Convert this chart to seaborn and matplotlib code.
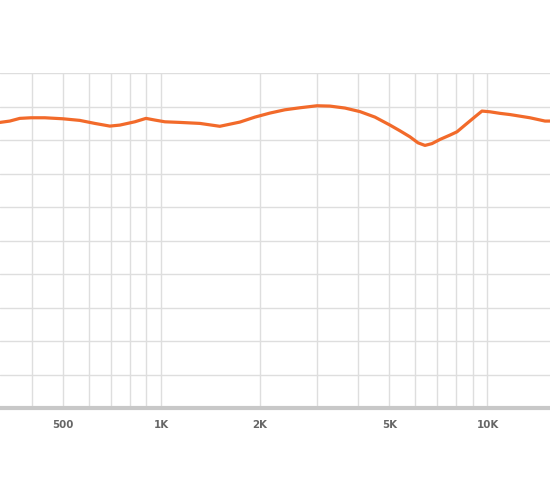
"""
Frequency response curve (log frequency axis)
"""
import matplotlib
matplotlib.use("Agg")
import matplotlib.pyplot as plt
import matplotlib.ticker as mticker
import seaborn as sns
import pandas as pd

# frequency (Hz) and level (dB)
freq_hz = [320, 343, 368, 398, 439, 499, 562, 625, 695, 746, 829, 897, 955,
           1025, 1139, 1313, 1511, 1741, 1936, 2152, 2392, 2659, 2999, 3288,
           3656, 4064, 4518, 5023, 5390, 5785, 6121, 6432, 6758, 7151, 7674,
           8064, 8531, 9156, 9619, 10180, 10920, 11720, 13500, 15010, 15550]
level_db = [82.64, 82.84, 83.24, 83.33, 83.33, 83.18, 82.94, 82.49, 82.09,
            82.24, 82.73, 83.24, 82.99, 82.73, 82.64, 82.49, 82.06, 82.69,
            83.43, 84.03, 84.52, 84.82, 85.12, 85.07, 84.78, 84.25, 83.43,
            82.24, 81.39, 80.49, 79.60, 79.21, 79.48, 80.10, 80.75, 81.24,
            82.24, 83.48, 84.33, 84.22, 83.99, 83.81, 83.33, 82.84, 82.84]

tick_pos = [500, 1000, 2000, 5000, 10000]
tick_lab = ["500", "1K", "2K", "5K", "10K"]
minor_pos = [400, 600, 700, 800, 900, 3000, 4000, 6000, 7000, 8000, 9000]

df = pd.DataFrame({"freq": freq_hz, "db": level_db})

sns.set_style("white")
fig = plt.figure(figsize=(5.5, 4.82), dpi=100)
ax = fig.add_axes([0, 0.1525, 1, 0.696])

sns.lineplot(data=df, x="freq", y="db", ax=ax, color="#f26a2a", lw=2.3)

ax.set_xscale("log")
ax.set_xlim(320, 15550)
ax.set_ylim(40, 90)

ax.xaxis.set_major_locator(mticker.FixedLocator(tick_pos))
ax.xaxis.set_major_formatter(mticker.FixedFormatter(tick_lab))
ax.xaxis.set_minor_locator(mticker.FixedLocator(minor_pos))
ax.xaxis.set_minor_formatter(mticker.NullFormatter())
ax.yaxis.set_major_locator(mticker.MultipleLocator(5))
ax.set_yticklabels([])

ax.grid(True, which="both", axis="x", color="#dedede", lw=1.0)
ax.grid(True, which="major", axis="y", color="#dedede", lw=1.0)
ax.set_axisbelow(True)

for s in ["top", "left", "right"]:
    ax.spines[s].set_visible(False)
ax.spines["bottom"].set_color("#c8c8c8")
ax.spines["bottom"].set_linewidth(3.0)

ax.tick_params(axis="both", which="both", length=0)
ax.tick_params(axis="x", pad=8.5)
for lab in ax.get_xticklabels():
    lab.set_family(["DejaVu Sans"])
    lab.set_fontstretch("condensed")
    lab.set_fontweight("bold")
    lab.set_fontsize(8.2)
    lab.set_color("#666666")

ax.set_xlabel("")
ax.set_ylabel("")

plt.savefig("out.png", dpi=100)
plt.close()
